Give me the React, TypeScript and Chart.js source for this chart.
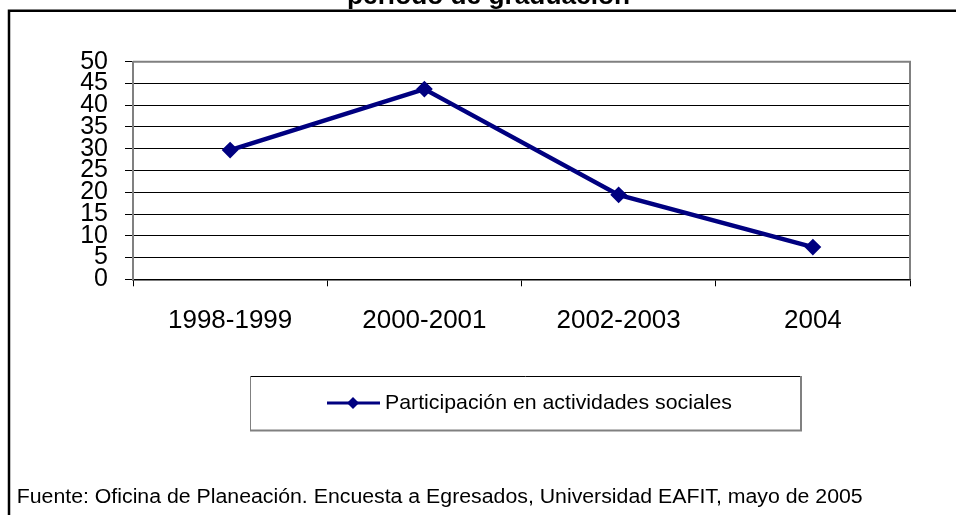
import React, { useEffect, useRef } from "react";
import { Chart, registerables } from "chart.js";

Chart.register(...registerables);

const categories = ["1998-1999", "2000-2001", "2002-2003", "2004"];
const values = [29.7, 43.7, 19.4, 7.4];
const seriesLabel = "Participación en actividades sociales";
const titleText = "periodo de graduación";
const footerText =
  "Fuente: Oficina de Planeación. Encuesta a Egresados, Universidad EAFIT, mayo de 2005";
const yMin = 0;
const yMax = 50;
const yStep = 5;

const FONT = "'Liberation Sans', Arial, sans-serif";
const NAVY = "#000080";

function fitText(
  ctx: CanvasRenderingContext2D,
  text: string,
  x: number,
  y: number,
  width: number
) {
  const w = ctx.measureText(text).width;
  ctx.save();
  ctx.translate(x, y);
  ctx.scale(width / w, 1);
  ctx.fillText(text, 0, 0);
  ctx.restore();
}

export default function App() {
  const ref = useRef<HTMLCanvasElement>(null);

  useEffect(() => {
    const canvas = ref.current!;
    const decor = {
      id: "decor",
      beforeDatasetsDraw(chart: any) {
        const { ctx, chartArea: a } = chart;
        ctx.save();
        ctx.strokeStyle = "#808080";
        ctx.lineWidth = 2;
        ctx.beginPath();
        ctx.moveTo(a.left, a.top);
        ctx.lineTo(a.right, a.top);
        ctx.lineTo(a.right, a.bottom);
        ctx.stroke();
        ctx.restore();
      },
      afterDraw(chart: any) {
        const ctx = chart.ctx as CanvasRenderingContext2D;
        ctx.save();
        // outer frame
        ctx.strokeStyle = "#000";
        ctx.lineWidth = 2.5;
        ctx.beginPath();
        ctx.moveTo(9, 530);
        ctx.lineTo(9, 10.7);
        ctx.lineTo(980, 10.7);
        ctx.stroke();
        // title (clipped at top)
        ctx.fillStyle = "#000";
        ctx.font = `bold 25px ${FONT}`;
        ctx.textAlign = "left";
        ctx.textBaseline = "alphabetic";
        fitText(ctx, titleText, 347, 4, 283);
        // legend box
        const lx0 = 250, lx1 = 801, ly0 = 376, ly1 = 430.5;
        ctx.fillStyle = "#fff";
        ctx.fillRect(lx0, ly0, lx1 - lx0, ly1 - ly0);
        ctx.strokeStyle = "#000";
        ctx.lineWidth = 1;
        ctx.beginPath();
        ctx.moveTo(lx0, ly0 + 0.5);
        ctx.lineTo(lx1, ly0 + 0.5);
        ctx.stroke();
        ctx.strokeStyle = "#808080";
        ctx.beginPath();
        ctx.moveTo(lx0 + 0.5, ly0);
        ctx.lineTo(lx0 + 0.5, ly1);
        ctx.stroke();
        ctx.lineWidth = 2;
        ctx.beginPath();
        ctx.moveTo(lx0, ly1);
        ctx.lineTo(lx1, ly1);
        ctx.lineTo(lx1, ly0);
        ctx.stroke();
        // legend sample
        const sy = 403;
        ctx.strokeStyle = NAVY;
        ctx.lineWidth = 3;
        ctx.beginPath();
        ctx.moveTo(327, sy);
        ctx.lineTo(380, sy);
        ctx.stroke();
        ctx.fillStyle = NAVY;
        ctx.beginPath();
        ctx.moveTo(353, sy - 6);
        ctx.lineTo(359, sy);
        ctx.lineTo(353, sy + 6);
        ctx.lineTo(347, sy);
        ctx.closePath();
        ctx.fill();
        ctx.fillStyle = "#000";
        ctx.font = `21px ${FONT}`;
        ctx.textAlign = "left";
        ctx.textBaseline = "middle";
        fitText(ctx, seriesLabel, 385, sy, 347);
        // footer
        ctx.font = `19.5px ${FONT}`;
        ctx.textBaseline = "alphabetic";
        fitText(ctx, footerText, 16.7, 503, 846);
        ctx.restore();
      },
    };

    const chart = new Chart(canvas, {
      type: "line",
      data: {
        labels: categories,
        datasets: [
          {
            label: seriesLabel,
            data: values,
            borderColor: NAVY,
            backgroundColor: NAVY,
            borderWidth: 4.5,
            tension: 0,
            pointStyle: "rectRot",
            pointRadius: 7,
            pointBorderWidth: 2,
            pointBackgroundColor: NAVY,
            pointBorderColor: NAVY,
          },
        ],
      },
      options: {
        responsive: false,
        animation: false,
        layout: { padding: { top: 61.7, right: 46, bottom: 0, left: 0 } },
        plugins: {
          legend: { display: false },
          title: { display: false },
          tooltip: { enabled: false },
        },
        scales: {
          x: {
            type: "category",
            offset: true,
            afterFit(scale: any) {
              scale.height = 515 - 279.3;
            },
            grid: {
              offset: true,
              drawOnChartArea: false,
              drawTicks: true,
              tickLength: 7,
              color: "#000",
              lineWidth: 1,
            },
            border: { display: true, color: "#000", width: 1.5 },
            ticks: {
              color: "#000",
              font: { family: FONT, size: 26 },
              padding: 19,
              maxRotation: 0,
              autoSkip: false,
            },
          },
          y: {
            min: yMin,
            max: yMax,
            afterFit(scale: any) {
              scale.width = 133;
            },
            grid: {
              color: "#000",
              lineWidth: 1,
              drawTicks: true,
              tickLength: 8,
            },
            border: { display: true, color: "#808080", width: 2 },
            ticks: {
              stepSize: yStep,
              autoSkip: false,
              color: "#000",
              font: { family: FONT, size: 25 },
              padding: 17,
            },
          },
        },
      },
      plugins: [decor],
    });
    return () => chart.destroy();
  }, []);

  return (
    <div
      style={{
        position: "fixed",
        left: 0,
        top: 0,
        width: 956,
        height: 515,
        background: "#fff",
      }}
    >
      <canvas ref={ref} width={956} height={515} style={{ display: "block" }} />
    </div>
  );
}
